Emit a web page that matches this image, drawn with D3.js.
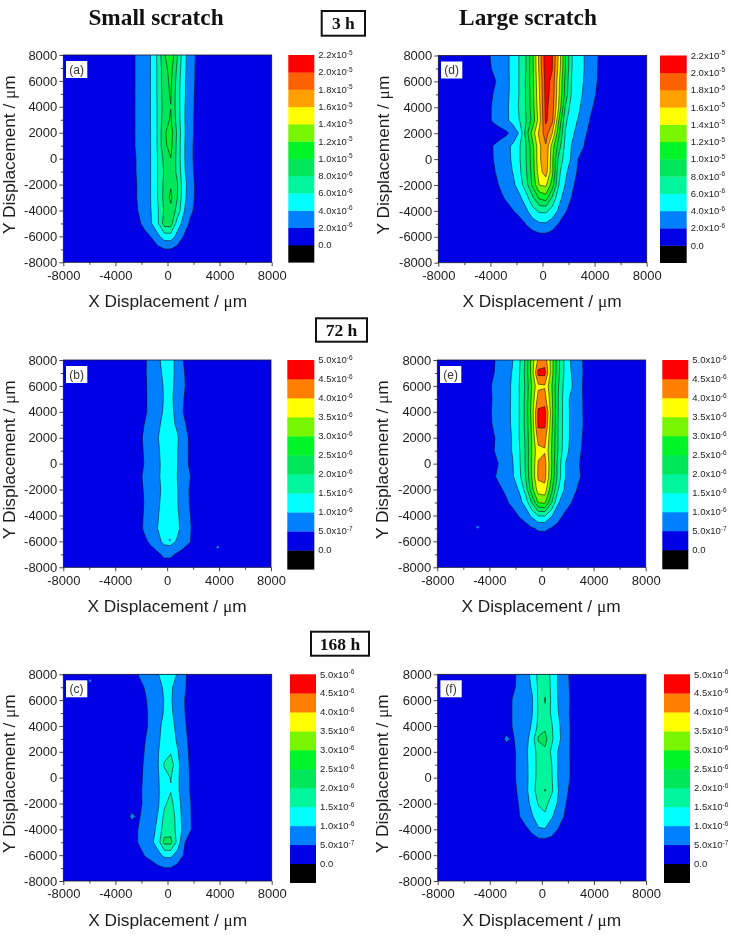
<!DOCTYPE html>
<html><head><meta charset="utf-8">
<script src="https://cdn.jsdelivr.net/npm/d3@7"></script>
<style>html,body{margin:0;padding:0;background:#fff}svg{display:block;filter:blur(0.35px)}</style>
</head><body><svg id="c" width="731" height="940"></svg>
<script>
// ---- data (concentration x 1e-6) ----
const gridX = [-4750,-4250,-3750,-3250,-2750,-2250,-1750,-1250,-750,-250,250,750,1250,1750,2250,2750,3250,3750,4250,4750];
const gridY = [8000,7000,6000,5000,4000,3000,2000,1000,0,-1000,-2000,-3000,-4000,-5000,-6000,-7000,-8000];

const gridA = [
[1,1,1,1,1.5,2.5,3.2,4.1,6.4,9.8,11.5,8.2,4.6,3.1,1.7,1,1,1,1,1],
[1,1,1,1,1.6,2.4,3.2,4.1,6.3,9.3,10.8,7.6,4.5,3,1.6,1,1,1,1,1],
[1,1,1,1,1.6,2.4,3.2,4.1,6.3,9.2,10.4,7.2,4.4,2.9,1.6,1,1,1,1,1],
[1,1,1,1,1.6,2.4,3.2,4.1,6.3,9.1,10.2,7,4.4,2.8,1.5,1,1,1,1,1],
[1,1,1,1,1.6,2.4,3.2,4.1,6.2,8.9,9.95,7,4.3,2.7,1.5,1,1,1,1,1],
[1,1,1,1,1.6,2.4,3.2,4.1,6.2,9.2,10.2,7.2,4.3,2.6,1.4,1,1,1,1,1],
[1,1,1,1,1.6,2.4,3.1,4.1,6.2,9.7,11,7.6,4.4,2.6,1.4,1,1,1,1,1],
[1,1,1,1,1.6,2.4,3.1,4.1,6.2,9.6,10.6,7.4,4.3,2.5,1.3,1,1,1,1,1],
[1,1,1,1,1.4,2.3,3,4.1,6.05,8.6,9.95,7.4,4.3,2.5,1.3,1,1,1,1,1],
[1,1,1,1,1.4,2.3,3,4.1,6.05,8.2,9.3,7.6,4.4,2.6,1.4,1,1,1,1,1],
[1,1,1,1,1.3,2.2,3,4.1,6.05,8.5,9.8,8.2,4.8,2.9,1.5,1,1,1,1,1],
[1,1,1,1,1.3,2.2,3,4.1,6.05,8.6,10.4,8.1,4.6,2.8,1.5,1,1,1,1,1],
[1,1,1,1,1.2,2.05,2.9,4.05,5.8,8.2,9.5,7.3,4.2,2.5,1.3,1,1,1,1,1],
[1,1,1,1,1,1.6,2.6,3.9,5.6,8.9,9,5,3.3,1.6,1,1,1,1,1,1],
[1,1,1,1,1,1,1.4,2.1,3.5,5,5.1,3.4,1.9,1,1,1,1,1,1,1],
[1,1,1,1,1,1,1,1,1.4,1.9,1.9,1.4,1,1,1,1,1,1,1,1],
[1,1,1,1,1,1,1,1,1,1,1,1,1,1,1,1,1,1,1,1]];

const gridD = [
[1,1.6,2.5,3,3.6,4.7,6.2,8.1,11.7,16.6,21.4,20.1,15.6,10.2,6.05,4.9,3.9,3,2.05,1],
[1,1.5,2.3,3,3.6,4.7,6.2,8.1,11.6,16.4,21.2,20.05,15.2,10.05,6.05,4.8,3.9,3,1.95,1],
[1,1,1.7,2.6,3.5,4.7,6.2,8.3,11.5,16.05,20.8,19.5,14.5,9.5,5.8,4.7,3.8,2.9,1.9,1],
[1,1.2,2.1,2.9,3.6,4.7,6.2,8.2,11.4,15.8,20.7,19.3,14.3,9.2,5.7,4.6,3.6,2.6,1.7,1],
[1,1.5,2.3,3,3.7,4.8,6.3,8.2,11.2,15.5,20.5,19,13.8,7.9,4.9,4.3,3.3,2.2,1.4,1],
[1,1.5,2.3,3,3.7,4.7,6.1,8.05,10.8,15.05,20.4,18.5,12.05,6.5,4.6,3.9,2.9,1.7,1,1],
[1,1,1,1.2,1.7,2.8,4.3,9,13,16.5,19,16.05,10.5,5.9,4.4,3.3,2.3,1.3,1,1],
[1,1.3,2.1,2.8,3.5,4.4,5.9,8.05,11.5,15.5,17.8,13,9,5.4,3.9,3.3,1.8,1,1,1],
[1,1.2,2.05,2.8,3.5,4.3,5.9,8.05,11.2,15.6,17.5,12.5,7.4,5.1,3.7,1.95,1.2,1,1,1],
[1,1,1.8,2.6,3.3,4.1,5.6,7.8,11,15.2,17,12.5,6.5,4.4,3,1.7,1,1,1,1],
[1,1,1.4,2.2,3,3.6,5,7.2,10.5,14,14.4,11,6.05,3.9,2.4,1.3,1,1,1,1],
[1,1,1,1.6,2.3,3.05,3.6,5.2,7.6,10.3,11,7.6,4.6,3.2,1.9,1,1,1,1,1],
[1,1,1,1,1.3,1.95,2.7,3.6,5.3,6.3,6.4,5.2,3.7,2.2,1.2,1,1,1,1,1],
[1,1,1,1,1,1,1.2,2.1,3.05,3.7,3.8,3.05,1.9,1.1,1,1,1,1,1,1],
[1,1,1,1,1,1,1,1,1,1.3,1.3,1,1,1,1,1,1,1,1,1],
[1,1,1,1,1,1,1,1,1,1,1,1,1,1,1,1,1,1,1,1],
[1,1,1,1,1,1,1,1,1,1,1,1,1,1,1,1,1,1,1,1]];

const gridB = [
[.3,.3,.3,.3,.3,.3,.45,.62,.85,1.2,1.2,.85,.49,.3,.3,.3,.3,.3,.3,.3],
[.3,.3,.3,.3,.3,.3,.45,.63,.82,1.1,1.2,.85,.55,.3,.3,.3,.3,.3,.3,.3],
[.3,.3,.3,.3,.3,.3,.43,.63,.8,1.03,1.15,.85,.58,.3,.3,.3,.3,.3,.3,.3],
[.3,.3,.3,.3,.3,.3,.43,.62,.8,1.02,1.12,.82,.52,.3,.3,.3,.3,.3,.3,.3],
[.3,.3,.3,.3,.3,.3,.43,.62,.8,1.05,1.15,.85,.49,.3,.3,.3,.3,.3,.3,.3],
[.3,.3,.3,.3,.3,.3,.51,.65,.88,1.15,1.2,.92,.58,.38,.3,.3,.3,.3,.3,.3],
[.3,.3,.3,.3,.3,.3,.6,.72,.95,1.3,1.3,1.1,.65,.45,.3,.3,.3,.3,.3,.3],
[.3,.3,.3,.3,.3,.3,.55,.7,.9,1.2,1.25,1.05,.65,.45,.3,.3,.3,.3,.3,.3],
[.3,.3,.3,.3,.3,.3,.52,.68,.85,1.2,1.25,1.05,.65,.45,.3,.3,.3,.3,.3,.3],
[.3,.3,.3,.3,.3,.3,.62,.72,.88,1.2,1.2,1.02,.7,.52,.3,.3,.3,.3,.3,.3],
[.3,.3,.3,.3,.3,.3,.55,.7,.85,1.15,1.2,1.05,.7,.47,.3,.3,.3,.3,.3,.3],
[.3,.3,.3,.3,.3,.3,.52,.7,.88,1.2,1.25,1.05,.7,.48,.3,.3,.3,.3,.3,.3],
[.3,.3,.3,.3,.3,.3,.55,.72,.93,1.3,1.3,1.1,.75,.52,.3,.3,.3,.3,.3,.3],
[.3,.3,.3,.3,.3,.3,.58,.75,.99,1.4,1.4,1.15,.8,.55,.3,.3,.3,.3,.3,.3],
[.3,.3,.3,.3,.3,.3,.4,.6,.8,1.15,1.2,.95,.75,.52,.3,.3,.3,.3,.3,.3],
[.3,.3,.3,.3,.3,.3,.3,.3,.42,.58,.58,.45,.3,.3,.3,.3,.3,.3,.3,.3],
[.3,.3,.3,.3,.3,.3,.3,.3,.3,.3,.3,.3,.3,.3,.3,.3,.3,.3,.3,.3]];

const gridE = [
[.3,.3,.42,.65,.82,.96,1.35,2.05,3.2,4.1,4.3,3.3,2.2,1.45,.97,.7,.45,.3,.3,.3],
[.3,.3,.45,.65,.82,1.02,1.4,2.1,3.2,4.65,4.65,3.3,2.2,1.45,1.02,.7,.47,.3,.3,.3],
[.3,.3,.55,.7,.85,1.05,1.45,2.05,3.02,3.9,3.95,3.1,2.1,1.35,1.1,.68,.45,.3,.3,.3],
[.3,.3,.52,.7,.85,1.05,1.45,2.1,3.1,4.2,4.2,3.2,2.05,1.3,.9,.65,.47,.3,.3,.3],
[.3,.3,.55,.72,.87,1.05,1.45,2.1,3.2,4.6,4.7,3.3,2.05,1.3,.92,.67,.47,.3,.3,.3],
[.3,.3,.52,.7,.85,1.05,1.45,2.1,3.1,4.6,4.6,3.2,2.02,1.3,.92,.67,.48,.3,.3,.3],
[.3,.3,.42,.65,.82,1.02,1.45,2.05,3.02,4.2,4.2,3.1,2.02,1.3,.92,.65,.45,.3,.3,.3],
[.3,.3,.45,.65,.82,1.02,1.4,2.02,3.02,3.85,3.95,3.05,2.02,1.25,.88,.62,.42,.3,.3,.3],
[.3,.3,.38,.52,.78,.95,1.35,2.02,3.02,4.05,4.2,3.1,1.85,1.05,.78,.55,.4,.3,.3,.3],
[.3,.3,.42,.6,.75,.92,1.3,1.95,3.02,4.1,4.2,3.02,1.85,1.05,.78,.58,.42,.3,.3,.3],
[.3,.3,.3,.42,.58,.8,1.02,1.65,2.8,3.75,3.8,2.7,1.55,.98,.75,.48,.3,.3,.3,.3],
[.3,.3,.3,.3,.42,.62,.82,1.15,2.02,3.02,3.1,2.1,1.05,.8,.52,.3,.3,.3,.3,.3],
[.3,.3,.3,.3,.3,.3,.52,.72,1.1,1.52,1.55,1.05,.75,.42,.3,.3,.3,.3,.3,.3],
[.3,.3,.3,.3,.3,.3,.3,.3,.45,.55,.56,.48,.3,.3,.3,.3,.3,.3,.3,.3],
[.3,.3,.3,.3,.3,.3,.3,.3,.3,.3,.3,.3,.3,.3,.3,.3,.3,.3,.3,.3],
[.3,.3,.3,.3,.3,.3,.3,.3,.3,.3,.3,.3,.3,.3,.3,.3,.3,.3,.3,.3],
[.3,.3,.3,.3,.3,.3,.3,.3,.3,.3,.3,.3,.3,.3,.3,.3,.3,.3,.3,.3]];

const gridC = [
[.3,.3,.3,.3,.3,.51,.65,.78,.97,1.2,1.25,.97,.6,.35,.3,.3,.3,.3,.3,.3],
[.3,.3,.3,.3,.3,.35,.52,.65,.8,1.08,1.08,.8,.58,.35,.3,.3,.3,.3,.3,.3],
[.3,.3,.3,.3,.3,.3,.45,.62,.78,1.02,1.05,.78,.53,.3,.3,.3,.3,.3,.3,.3],
[.3,.3,.3,.3,.3,.3,.42,.6,.78,1.04,1.1,.78,.55,.3,.3,.3,.3,.3,.3,.3],
[.3,.3,.3,.3,.3,.3,.42,.6,.85,1.15,1.2,.85,.6,.33,.3,.3,.3,.3,.3,.3],
[.3,.3,.3,.3,.3,.3,.48,.65,.9,1.2,1.3,.92,.65,.38,.3,.3,.3,.3,.3,.3],
[.3,.3,.3,.3,.3,.3,.52,.66,.95,1.3,1.45,1.05,.7,.42,.3,.3,.3,.3,.3,.3],
[.3,.3,.3,.3,.3,.33,.56,.68,.95,1.55,1.75,1.15,.72,.45,.3,.3,.3,.3,.3,.3],
[.3,.3,.3,.3,.3,.35,.58,.68,.93,1.3,1.52,1.1,.75,.47,.3,.3,.3,.3,.3,.3],
[.3,.3,.3,.3,.3,.38,.6,.7,.92,1.25,1.47,1.1,.75,.48,.3,.3,.3,.3,.3,.3],
[.3,.3,.3,.3,.3,.4,.57,.7,.9,1.42,1.65,1.2,.8,.52,.3,.3,.3,.3,.3,.3],
[.3,.3,.3,.3,.58,.45,.62,.75,1.02,1.6,1.8,1.3,.8,.53,.3,.3,.3,.3,.3,.3],
[.3,.3,.3,.3,.3,.51,.66,.8,1.12,1.75,1.8,1.35,.85,.54,.3,.3,.3,.3,.3,.3],
[.3,.3,.3,.3,.3,.52,.62,.9,1.2,2.15,2.15,1.35,.55,.3,.3,.3,.3,.3,.3,.3],
[.3,.3,.3,.3,.3,.3,.52,.65,.85,1.1,1.12,.8,.48,.3,.3,.3,.3,.3,.3,.3],
[.3,.3,.3,.3,.3,.3,.3,.3,.4,.48,.48,.35,.3,.3,.3,.3,.3,.3,.3,.3],
[.3,.3,.3,.3,.3,.3,.3,.3,.3,.3,.3,.3,.3,.3,.3,.3,.3,.3,.3,.3]];

const gridF = [
[.3,.3,.3,.3,.3,.42,.58,.8,1.15,1.65,1.75,1.4,.97,.7,.38,.3,.3,.3,.3,.3],
[.3,.3,.3,.3,.3,.44,.58,.78,1.05,1.6,1.85,1.4,.95,.7,.42,.3,.3,.3,.3,.3],
[.3,.3,.3,.3,.3,.52,.62,.78,.95,1.6,2.05,1.4,.98,.7,.45,.3,.3,.3,.3,.3],
[.3,.3,.3,.3,.3,.52,.6,.76,.98,1.58,1.85,1.42,1.02,.72,.42,.3,.3,.3,.3,.3],
[.3,.3,.3,.3,.3,.52,.62,.8,1.05,1.65,1.9,1.55,1.1,.75,.45,.3,.3,.3,.3,.3],
[.3,.3,.3,.3,.58,.45,.65,.85,1.2,2.1,2.15,1.6,1.15,.75,.45,.3,.3,.3,.3,.3],
[.3,.3,.3,.3,.3,.42,.6,.88,1.3,1.65,1.9,1.4,.97,.7,.45,.3,.3,.3,.3,.3],
[.3,.3,.3,.3,.3,.43,.58,.85,1.28,1.65,1.85,1.52,.97,.68,.46,.3,.3,.3,.3,.3],
[.3,.3,.3,.3,.3,.44,.57,.85,1.25,1.68,1.85,1.55,.95,.68,.46,.3,.3,.3,.3,.3],
[.3,.3,.3,.3,.3,.42,.55,.85,1.3,1.75,2.02,1.6,1.02,.65,.38,.3,.3,.3,.3,.3],
[.3,.3,.3,.3,.3,.35,.52,.8,1.15,1.55,1.7,1.25,.95,.55,.35,.3,.3,.3,.3,.3],
[.3,.3,.3,.3,.3,.3,.48,.7,.95,1.3,1.4,1.05,.8,.47,.3,.3,.3,.3,.3,.3],
[.3,.3,.3,.3,.3,.3,.3,.42,.6,.95,.97,.75,.48,.3,.3,.3,.3,.3,.3,.3],
[.3,.3,.3,.3,.3,.3,.3,.3,.3,.3,.3,.3,.3,.3,.3,.3,.3,.3,.3,.3],
[.3,.3,.3,.3,.3,.3,.3,.3,.3,.3,.3,.3,.3,.3,.3,.3,.3,.3,.3,.3],
[.3,.3,.3,.3,.3,.3,.3,.3,.3,.3,.3,.3,.3,.3,.3,.3,.3,.3,.3,.3],
[.3,.3,.3,.3,.3,.3,.3,.3,.3,.3,.3,.3,.3,.3,.3,.3,.3,.3,.3,.3]];

// contour levels (x 1e-6)
const levels3h  = [2,4,6,8,10,12,14,16,18,20];
const levelsLong = [.5,1,1.5,2,2.5,3,3.5,4,4.5];

// legend labels, top to bottom
const legend3hText = ["2.2","2.0","1.8","1.6","1.4","1.2","1.0","8.0","6.0","4.0","2.0","0.0"];
const legend3hExp  = ["-5","-5","-5","-5","-5","-5","-5","-6","-6","-6","-6",""];
const legendLongText = ["5.0","4.5","4.0","3.5","3.0","2.5","2.0","1.5","1.0","5.0","0.0"];
const legendLongExp  = ["-6","-6","-6","-6","-6","-6","-6","-6","-6","-7",""];

// small isolated specks [x, y]
const specksB = [[3900,-6450],[200,-5900]];
const specksC = [[-5950,7500]];
const specksE = [[-4900,-4900]];

const majorX = [-8000,-4000,0,4000,8000];
const minorX = [-6000,-2000,2000,6000];
const majorY = [-8000,-6000,-4000,-2000,0,2000,4000,6000,8000];
const minorY = [-7000,-5000,-3000,-1000,1000,3000,5000,7000];

// ---- style & layout ----
const black = "#000000";
const colors3h = ["#0000e6","#0080ff","#00ffff","#00f59c","#00e65a","#00f528","#78f500","#ffff00","#ffa000","#ff6000","#ff0000"];
const colorsLong = ["#0000e6","#0080ff","#00ffff","#00f59c","#00e65a","#00f528","#78f500","#ffff00","#ff8000","#ff0000"];

const panels = [
 {tag:"(a)",grid:gridA,levels:levels3h,colors:colors3h,labels:legend3hText,exps:legend3hExp,specks:[],
  x0:63.3,x1:271.7,y0:55,y1:262.3,lx0:288.3,lx1:314.3,ly1:262.3,yt:15,xt:167.7,xb:306.5},
 {tag:"(d)",grid:gridD,levels:levels3h,colors:colors3h,labels:legend3hText,exps:legend3hExp,specks:[],
  x0:438.3,x1:646.7,y0:55.5,y1:262.7,lx0:660,lx1:686.7,ly1:262.7,yt:389,xt:542,xb:306.5},
 {tag:"(b)",grid:gridB,levels:levelsLong,colors:colorsLong,labels:legendLongText,exps:legendLongExp,specks:specksB,
  x0:63.3,x1:271,y0:360,y1:567.3,lx0:287.3,lx1:314.3,ly1:569.3,yt:15,xt:167,xb:611.5},
 {tag:"(e)",grid:gridE,levels:levelsLong,colors:colorsLong,labels:legendLongText,exps:legendLongExp,specks:specksE,
  x0:437.3,x1:645.7,y0:360,y1:567.3,lx0:662.3,lx1:688.3,ly1:569,yt:388,xt:541,xb:611.5},
 {tag:"(c)",grid:gridC,levels:levelsLong,colors:colorsLong,labels:legendLongText,exps:legendLongExp,specks:specksC,
  x0:63.3,x1:271.7,y0:674.3,y1:881,lx0:290,lx1:316,ly1:882.7,yt:15,xt:167.7,xb:926},
 {tag:"(f)",grid:gridF,levels:levelsLong,colors:colorsLong,labels:legendLongText,exps:legendLongExp,specks:[],
  x0:437.7,x1:646,y0:674.3,y1:881,lx0:664,lx1:690,ly1:882.7,yt:388,xt:541.7,xb:926}
];

const svg = d3.select("#c");
const sans = "'Liberation Sans',Arial,sans-serif";
const serif = "'Liberation Serif','Times New Roman',serif";
const ink = "#1c1c1c";

panels.forEach((p,pi)=>{
  const x = d3.scaleLinear().domain([-8000,8000]).range([p.x0,p.x1]);
  const y = d3.scaleLinear().domain([-8000,8000]).range([p.y1,p.y0]);
  const nx = gridX.length, ny = gridY.length;
  const gx = d3.scaleLinear().domain([.5,nx-.5]).range([x(gridX[0]),x(gridX[nx-1])]);
  const gy = d3.scaleLinear().domain([.5,ny-.5]).range([y(gridY[0]),y(gridY[ny-1])]);
  const path = d3.geoPath(d3.geoTransform({point(a,b){this.stream.point(gx(a),gy(b));}}));
  const g = svg.append("g");
  const cid = "clip"+pi;
  g.append("clipPath").attr("id",cid).append("rect")
    .attr("x",p.x0).attr("y",p.y0).attr("width",p.x1-p.x0).attr("height",p.y1-p.y0);
  // background band
  g.append("rect").attr("x",p.x0).attr("y",p.y0).attr("width",p.x1-p.x0).attr("height",p.y1-p.y0).attr("fill",p.colors[0]);
  const conts = d3.contours().size([nx,ny]).thresholds(p.levels)(p.grid.flat());
  g.append("g").attr("clip-path",`url(#${cid})`).selectAll("path").data(conts).join("path")
    .attr("d",path)
    .attr("fill",(d,i)=>p.colors[i+1])
    .attr("stroke",d=>d.coordinates.length?"#0a0a14":"none").attr("stroke-width",.55);
  g.append("g").selectAll("circle").data(p.specks).join("circle")
    .attr("cx",d=>x(d[0])).attr("cy",d=>y(d[1])).attr("r",1.3)
    .attr("fill",p.colors[1]);
  // frame
  g.append("rect").attr("x",p.x0).attr("y",p.y0).attr("width",p.x1-p.x0).attr("height",p.y1-p.y0)
    .attr("fill","none").attr("stroke","#141432").attr("stroke-width",.8);
  // axes
  const styleAxis = s=>{s.select(".domain").remove();s.selectAll("line").attr("stroke","#1a1a1a").attr("stroke-width",.8);
    s.selectAll("text").attr("font-family",sans).attr("font-size",13).attr("fill",ink);};
  g.append("g").attr("transform",`translate(0,${p.y1})`)
    .call(d3.axisBottom(x).tickValues(majorX).tickSize(4).tickPadding(4).tickFormat(String)).call(styleAxis);
  g.append("g").attr("transform",`translate(0,${p.y1})`)
    .call(d3.axisBottom(x).tickValues(minorX).tickSize(2.5).tickFormat("")).call(styleAxis);
  g.append("g").attr("transform",`translate(${p.x0},0)`)
    .call(d3.axisLeft(y).tickValues(majorY).tickSize(4).tickPadding(2).tickFormat(String)).call(styleAxis);
  g.append("g").attr("transform",`translate(${p.x0},0)`)
    .call(d3.axisLeft(y).tickValues(minorY).tickSize(2.5).tickFormat("")).call(styleAxis);
  // axis titles
  const xt = g.append("text").attr("x",p.xt).attr("y",p.xb).attr("text-anchor","middle")
    .attr("font-family",sans).attr("font-size",17.3).attr("fill",ink);
  xt.append("tspan").text("X Displacement / ");
  xt.append("tspan").attr("font-family",serif).text("\u03bc");
  xt.append("tspan").text("m");
  const cy = (p.y0+p.y1)/2-4;
  const yt = g.append("text").attr("transform",`translate(${p.yt},${cy}) rotate(-90)`).attr("text-anchor","middle")
    .attr("font-family",sans).attr("font-size",17.3).attr("fill",ink);
  yt.append("tspan").text("Y Displacement / ");
  yt.append("tspan").attr("font-family",serif).text("\u03bc");
  yt.append("tspan").text("m");
  // panel tag
  g.append("rect").attr("x",p.x0+2.7).attr("y",p.y0+6).attr("width",21.3).attr("height",17).attr("fill","#fff");
  g.append("text").attr("x",p.x0+13.3).attr("y",p.y0+18.6).attr("text-anchor","middle")
    .attr("font-family",sans).attr("font-size",12).attr("fill","#333").text(p.tag);
  // legend
  const bands = [black,...p.colors];
  const n = bands.length;
  const ly = d3.scaleLinear().domain([n,0]).range([p.y0,p.ly1]);
  g.append("g").selectAll("rect").data(bands).join("rect")
    .attr("x",p.lx0).attr("width",p.lx1-p.lx0)
    .attr("y",(d,i)=>ly(i+1)).attr("height",(d,i)=>ly(i)-ly(i+1)+.3)
    .attr("fill",d=>d);
  const lt = g.append("g").selectAll("text").data(p.labels).join("text")
    .attr("x",p.lx1+4).attr("y",(d,i)=>ly(n-i)+3.2)
    .attr("font-family",sans).attr("font-size",9.5).attr("fill",ink);
  lt.each(function(d,i){
    const t = d3.select(this);
    if(p.exps[i]){
      t.append("tspan").text(d+"x10");
      t.append("tspan").attr("dy",-3.5).attr("font-size",6.5).text(p.exps[i]);
    } else t.text(d);
  });
});

// column headers
const headers = [["Small scratch",156,25],["Large scratch",528,25]];
svg.selectAll("text.h").data(headers).join("text").attr("class","h")
  .attr("x",d=>d[1]).attr("y",d=>d[2]).attr("text-anchor","middle")
  .attr("font-family",serif).attr("font-weight","bold").attr("font-size",23.3).attr("fill","#111").text(d=>d[0]);
// time boxes
const boxes = [["3 h",321.7,365,11,35.7],["72 h",316,367,318.3,341.7],["168 h",311,369,631.7,655.7]];
boxes.forEach(b=>{
  svg.append("rect").attr("x",b[1]).attr("y",b[3]).attr("width",b[2]-b[1]).attr("height",b[4]-b[3])
    .attr("fill","#fff").attr("stroke","#111").attr("stroke-width",2);
  svg.append("text").attr("x",(b[1]+b[2])/2).attr("y",(b[3]+b[4])/2+5.8).attr("text-anchor","middle")
    .attr("font-family",serif).attr("font-weight","bold").attr("font-size",17.5).attr("fill","#111").text(b[0]);
});
</script></body></html>
